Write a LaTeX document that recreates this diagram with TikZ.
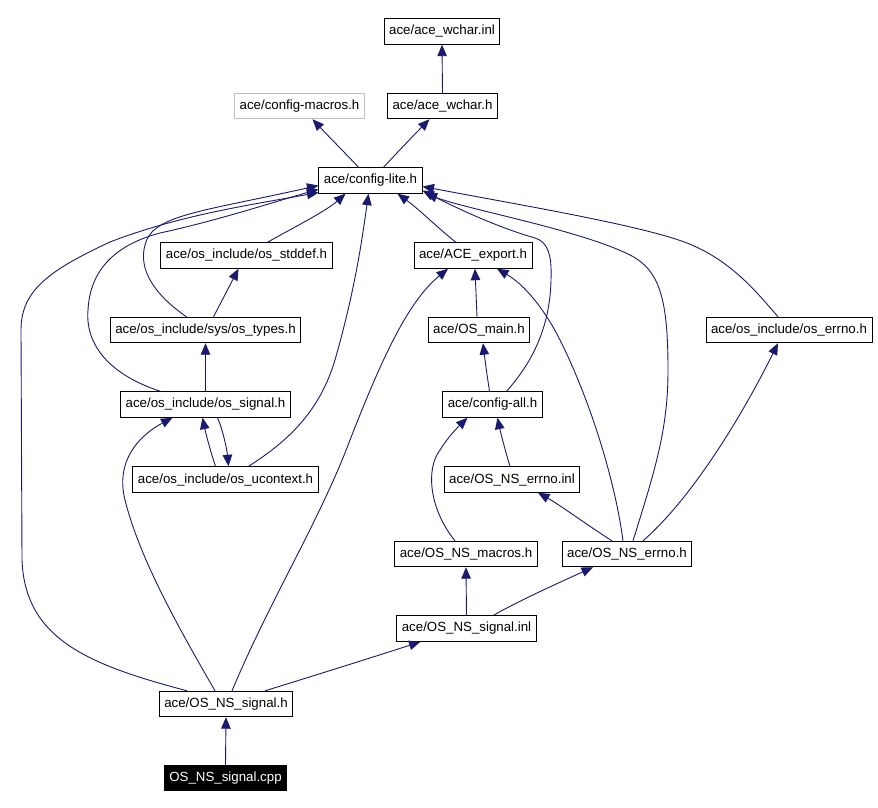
\documentclass[tikz,border=0pt]{standalone}
\usepackage{fontspec}
\setmainfont{Liberation Sans}
\usepackage{tikz}
\usetikzlibrary{arrows.meta,calc,positioning}
\definecolor{edgeblue}{HTML}{191970}
\definecolor{ghost}{HTML}{BFBFBF}
\tikzset{
  file/.style={draw=black, fill=white, line width=0.9pt, inner xsep=5pt, inner ysep=0pt,
    minimum height=25.5pt, font=\fontsize{13.3}{16}\selectfont},
  dep/.style={draw=edgeblue, line width=0.9pt, -{Triangle[length=11.5pt,width=9.5pt]}, edgeblue}
}
\begin{document}
\begin{tikzpicture}[x=1pt,y=-1pt]
\useasboundingbox (0,0) rectangle (878,808);
\node[file] (wcharinl) at (442,31.5) {ace/ace\_wchar.inl};
\node[file,draw=ghost] (macros) at (299.5,106) {ace/config-macros.h};
\node[file] (wchar) at (442.5,106) {ace/ace\_wchar.h};
\node[file] (lite) at (370.5,180.5) {ace/config-lite.h};
\node[file] (stddef) at (246.5,255.5) {ace/os\_include/os\_stddef.h};
\node[file] (export) at (473,255.5) {ace/ACE\_export.h};
\node[file] (types) at (205.5,330) {ace/os\_include/sys/os\_types.h};
\node[file] (osmain) at (479,330) {ace/OS\_main.h};
\node[file] (errnoh) at (789,330) {ace/os\_include/os\_errno.h};
\node[file] (signal) at (205.5,404.5) {ace/os\_include/os\_signal.h};
\node[file] (cfgall) at (492.5,404.5) {ace/config-all.h};
\node[file] (ucontext) at (225.5,479.5) {ace/os\_include/os\_ucontext.h};
\node[file] (nserrnoinl) at (512,479.5) {ace/OS\_NS\_errno.inl};
\node[file] (nsmacros) at (466,554) {ace/OS\_NS\_macros.h};
\node[file] (nserrno) at (627,554) {ace/OS\_NS\_errno.h};
\node[file] (nssignalinl) at (466.5,628.5) {ace/OS\_NS\_signal.inl};
\node[file] (nssignal) at (226,704) {ace/OS\_NS\_signal.h};
\node[file,fill=black,text=white] (cpp) at (225.5,778) {OS\_NS\_signal.cpp};
\draw[dep] (cpp.north) -- (nssignal.south);
\draw[dep] (wchar.north) -- (wcharinl.south);
\draw[dep] ([xshift=-12pt]lite.north) .. controls (350,158) and (332,140) .. ([xshift=13pt]macros.south);
\draw[dep] ([xshift=13pt]lite.north) .. controls (393,157) and (412,137) .. ([xshift=-13pt]wchar.south);
\draw[dep] ([xshift=21pt]stddef.north) .. controls (285,232) and (325,212) .. ([xshift=-25pt]lite.south);
\draw[dep] ([xshift=8pt]types.north) -- ([xshift=-8pt]stddef.south);
\draw[dep] ([xshift=-19pt]types.north) .. controls (155,295) and (138,270) .. (145,245)
  .. controls (152,215) and (200,212) .. ([yshift=-5pt]lite.west);
\draw[dep] (signal.north) -- (types.south);
\draw[dep] ([xshift=-45pt]signal.north) .. controls (110,375) and (85,345) .. (88,310)
  .. controls (90,270) and (115,245) .. (160,233) .. controls (220,220) and (280,200) .. ([yshift=-9pt]lite.west);
\draw[dep] ([xshift=-10pt]ucontext.north) .. controls (210,450) and (205,430) .. ([xshift=-3pt]signal.south);
\draw[dep] ([xshift=12pt]signal.south) .. controls (223,430) and (227,450) .. ([xshift=3pt]ucontext.north);
\draw[dep] ([xshift=23pt]ucontext.north) .. controls (290,440) and (320,410) .. (335,360)
  .. controls (355,290) and (362,240) .. ([xshift=-2pt]lite.south);
\draw[dep] ([xshift=-39pt]nssignal.north) .. controls (90,665) and (25,640) .. (22,560) -- (21,330)
  .. controls (21,290) and (50,270) .. (110,242) .. controls (180,215) and (250,205) .. ([yshift=-12pt]lite.west);
\draw[dep] ([xshift=-11pt]nssignal.north) .. controls (180,630) and (140,560) .. (125,500)
  .. controls (115,460) and (140,435) .. ([xshift=-33pt]signal.south);
\draw[dep] ([xshift=6pt]nssignal.north) .. controls (270,600) and (320,520) .. (350,440)
  .. controls (385,350) and (410,300) .. ([xshift=-25pt]export.south);
\draw[dep] ([xshift=39pt]nssignal.north) .. controls (300,680) and (380,655) .. ([xshift=-46pt]nssignalinl.south);
\draw[dep] (nssignalinl.north) -- (nsmacros.south);
\draw[dep] ([xshift=27pt]nssignalinl.north) .. controls (520,600) and (565,580) .. ([xshift=-34pt]nserrno.south);
\draw[dep] ([xshift=-11pt]nsmacros.north) .. controls (430,510) and (425,470) .. (440,450)
  .. controls (448,437) and (458,427) .. ([xshift=-25pt]cfgall.south);
\draw[dep] ([xshift=-2pt]nserrnoinl.north) .. controls (505,450) and (500,430) .. ([xshift=5pt]cfgall.south);
\draw[dep] ([xshift=-15pt]nserrno.north) .. controls (590,527) and (560,505) .. ([xshift=26pt]nserrnoinl.south);
\draw[dep] ([xshift=-4pt]nserrno.north) .. controls (615,480) and (590,400) .. (560,340)
  .. controls (545,310) and (525,285) .. ([xshift=24pt]export.south);
\draw[dep] ([xshift=6pt]nserrno.north) .. controls (655,470) and (668,430) .. (668,370)
  .. controls (668,300) and (660,270) .. (630,255) .. controls (580,230) and (470,210) .. ([xshift=3pt]lite.south east);
\draw[dep] ([xshift=16pt]nserrno.north) .. controls (690,500) and (740,420) .. ([xshift=-11pt]errnoh.south);
\draw[dep] ([xshift=-11pt]errnoh.north) .. controls (755,290) and (730,260) .. (687,243)
  .. controls (640,225) and (520,205) .. ([yshift=-6pt]lite.east);
\draw[dep] ([xshift=-17pt]export.north) .. controls (440,230) and (420,210) .. ([xshift=27pt]lite.south);
\draw[dep] ([xshift=-2pt]osmain.north) -- ([xshift=2pt]export.south);
\draw[dep] ([xshift=-3pt]cfgall.north) .. controls (487,375) and (485,360) .. ([xshift=4pt]osmain.south);
\draw[dep] ([xshift=14pt]cfgall.north) .. controls (530,365) and (550,330) .. (551,280)
  .. controls (552,255) and (548,242) .. (535,238) .. controls (500,228) and (460,210) .. ([yshift=-10pt]lite.east);
\end{tikzpicture}
\end{document}
